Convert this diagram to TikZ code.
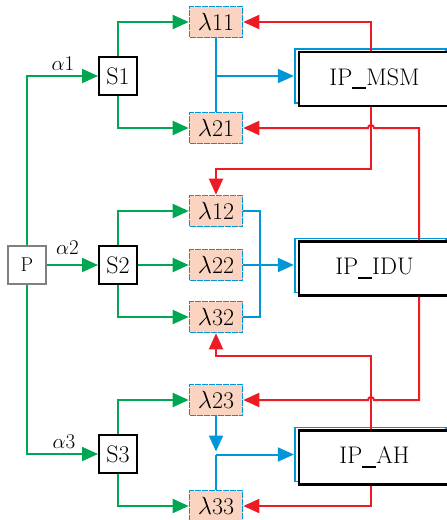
\documentclass[tikz,border=0pt]{standalone}
\usetikzlibrary{arrows.meta,shadows,calc}
\definecolor{lgreen}{RGB}{0,166,81}
\definecolor{lblue}{RGB}{0,150,218}
\definecolor{lred}{RGB}{237,28,36}
\definecolor{peach}{RGB}{250,212,192}
\definecolor{pgray}{RGB}{128,128,128}
\newcommand{\ubar}{\rule[-4pt]{14pt}{2pt}}
\begin{document}
\begin{tikzpicture}[x=1pt,y=-1pt,
  tip/.style={-{Triangle[length=16pt,width=14pt]}},
  gline/.style={draw=lgreen,line width=2pt},
  garrow/.style={gline,tip},
  bline/.style={draw=lblue,line width=2pt},
  barrow/.style={bline,tip},
  rline/.style={draw=lred,line width=2pt,tip},
  sbox/.style={rectangle,draw=black,line width=2pt,minimum size=38pt,inner sep=0pt,
    font=\fontsize{24}{28}\selectfont},
  pbox/.style={rectangle,draw=pgray,line width=1.5pt,minimum size=38pt,inner sep=0pt,
    font=\fontsize{20}{24}\selectfont},
  lam/.style={rectangle,fill=peach,draw=lblue,line width=1.6pt,
    dash pattern=on 6pt off 1pt,
    minimum width=53pt,minimum height=31pt,inner sep=0pt,
    font=\fontsize{24}{28}\selectfont},
  ipbox/.style={rectangle,draw=black,fill=white,line width=2.3pt,
    minimum width=151pt,minimum height=54pt,inner sep=0pt,
    copy shadow={draw=lblue,fill=white,line width=1.8pt,shadow xshift=-4pt,shadow yshift=3pt},
    font=\fontsize{24}{28}\selectfont},
  alab/.style={inner sep=0pt,anchor=base,font=\fontsize{21}{25}\selectfont}
]
\useasboundingbox (0,0) rectangle (447,520);

% source and splitters
\node[pbox] (P) at (27,265) {P};
\node[sbox] (S1) at (118,76) {S1};
\node[sbox] (S2) at (118,265) {S2};
\node[sbox] (S3) at (118,454) {S3};

% lambda blocks
\node[lam] (l11) at (216,22) {$\lambda$11};
\node[lam] (l21) at (216,128) {$\lambda$21};
\node[lam] (l12) at (216,211) {$\lambda$12};
\node[lam] (l22) at (216,265) {$\lambda$22};
\node[lam] (l32) at (216,317) {$\lambda$32};
\node[lam] (l23) at (216,400) {$\lambda$23};
\node[lam] (l33) at (216,506) {$\lambda$33};

% processing blocks
\node[ipbox] (msm) at (374.5,79) {IP\ubar MSM};
\node[ipbox] (idu) at (374.5,268.5) {IP\ubar IDU};
\node[ipbox] (ah) at (374.5,457.5) {IP\ubar AH};

% inputs of the processing blocks (left side of the blue frame)
\coordinate (msmin) at ([xshift=-4pt,yshift=3pt]msm.west);
\coordinate (iduin) at ([xshift=-4pt,yshift=3pt]idu.west);
\coordinate (ahin) at ([xshift=-4pt,yshift=3pt]ah.west);

% green feeds
\draw[garrow] (P.north) |- (S1.west);
\draw[garrow] (P.east) -- (S2.west);
\draw[garrow] (P.south) |- (S3.west);
\node[alab] (a1) at (63,70) {$\alpha$1};
\node[alab] (a2) at (67.5,254) {$\alpha$2};
\node[alab] (a3) at (64,448) {$\alpha$3};

\draw[garrow] (S1.north) |- (l11.west);
\draw[garrow] (S1.south) |- (l21.west);
\draw[garrow] (S2.north) |- (l12.west);
\draw[garrow] (S2.east) -- (l22.west);
\draw[garrow] (S2.south) |- (l32.west);
\draw[garrow] (S3.north) |- (l23.west);
\draw[garrow] (S3.south) |- (l33.west);

% blue collectors
\draw[bline] (l11.south) -- (l21.north);
\draw[barrow] (l11.south |- msmin) -- (msmin);
\draw[bline] (l12.east) -- ++(17,0) |- (l32.east);
\draw[barrow] (l22.east) -- (l22.east -| iduin);
\coordinate (j3) at (l23.south |- ahin);
\draw[barrow] (l23.south) -- ($(j3)+(0,-3)$);
\draw[bline] (l33.north) -- (j3);
\draw[barrow] (j3) -- (ahin);

% red feedback
\coordinate (vt) at ([xshift=-3.5pt]msm.south);
\coordinate (vb) at ([xshift=-3.5pt]ah.north);
\draw[rline] ([xshift=-3.5pt]msm.north) |- (l11.east);
\draw[rline] (vt) -- ++(0,62) -| (l12.north);
\draw[rline] ([xshift=44.5pt]idu.north) |- ($(vt |- l21.east)+(3,0)$)
  arc[start angle=0,end angle=180,radius=3pt] -- (l21.east);
\draw[rline] ([xshift=44.5pt]idu.south) |- ($(vb |- l23.east)+(3,0)$)
  arc[start angle=0,end angle=180,radius=3pt] -- (l23.east);
\draw[rline] (vb) -- ++(0,-73) -| (l32.south);
\draw[rline] ([xshift=-3.5pt]ah.south) |- (l33.east);
\end{tikzpicture}
\end{document}
